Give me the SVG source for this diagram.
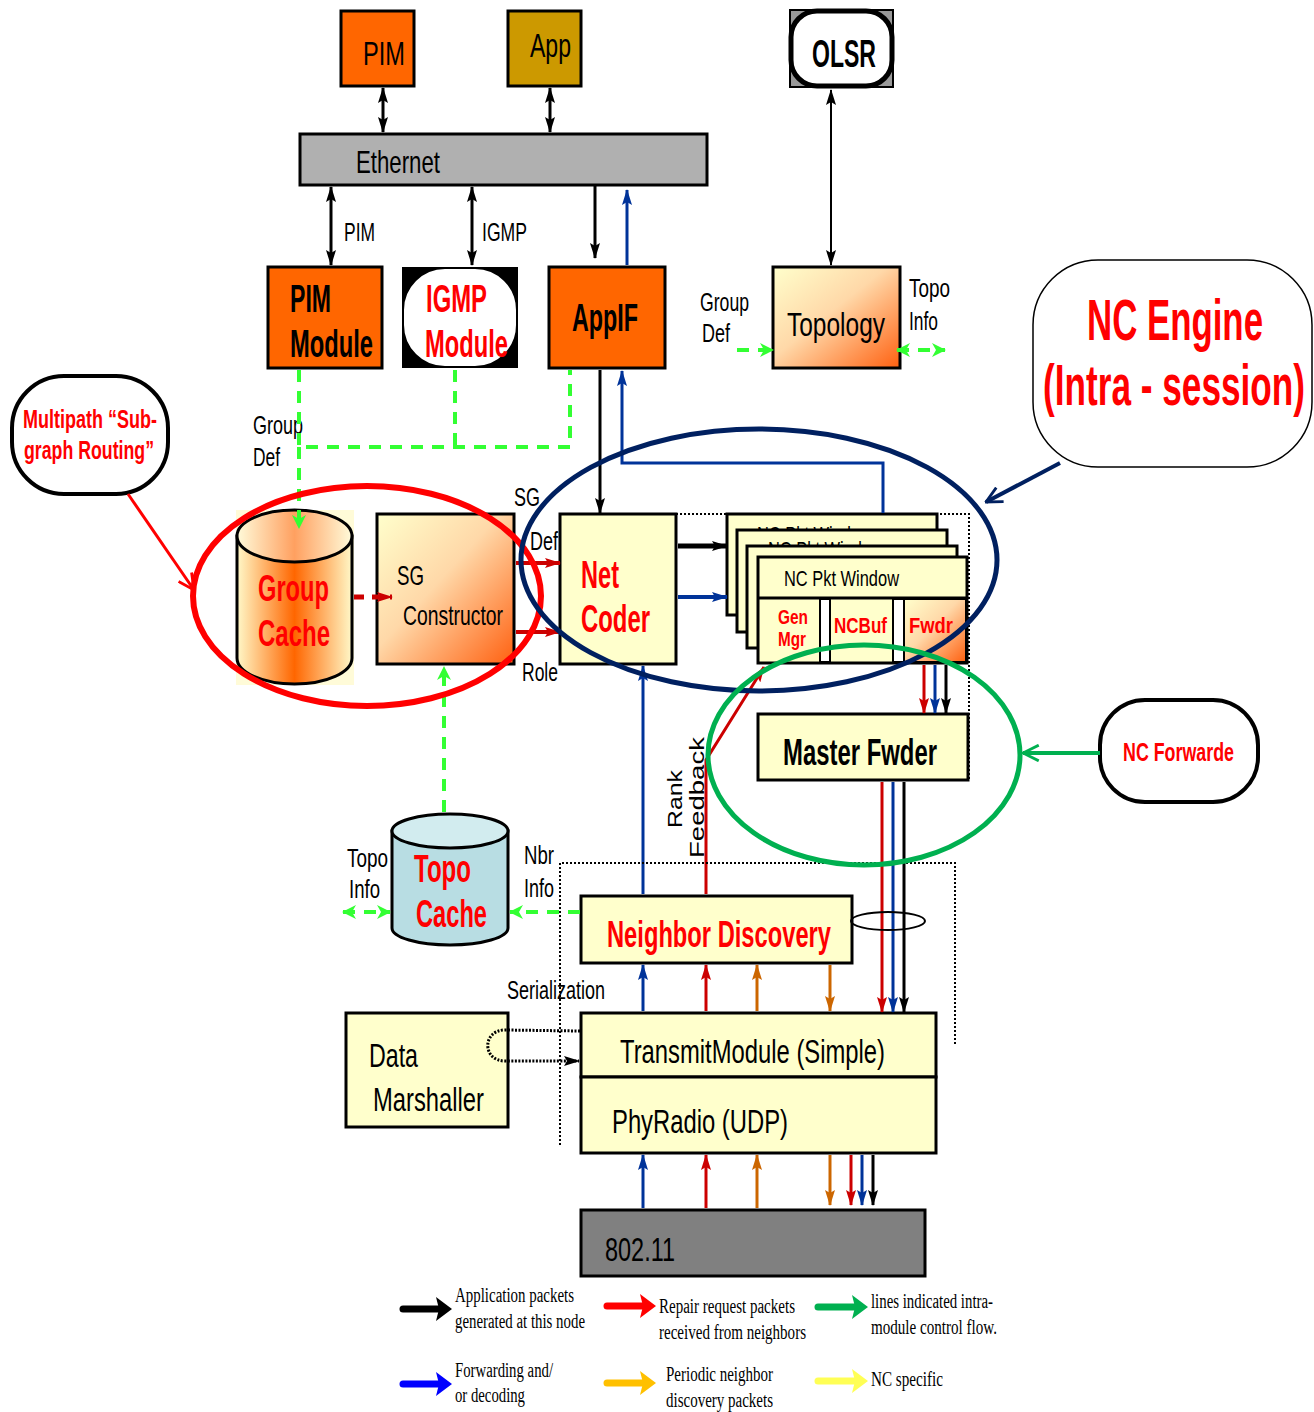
<svg xmlns="http://www.w3.org/2000/svg" width="1314" height="1412" viewBox="0 0 1314 1412">
<style>
text{font-family:"Liberation Sans",Arial,sans-serif;fill:#000}
.b{font-weight:bold}
.r{fill:#FF0000}
.s{font-family:"Liberation Serif","Times New Roman",serif;font-size:20px}
.box{stroke:#000;stroke-width:3}
.y{fill:#FFFFCC}
.or{fill:#FF6600}
.kl{stroke:#000;stroke-width:3;fill:none}
.bl{stroke:#003399;stroke-width:3;fill:none}
.rl{stroke:#CC0000;stroke-width:3;fill:none}
.ol{stroke:#CC6600;stroke-width:3;fill:none}
.gd{stroke:#33FF33;stroke-width:4;fill:none;stroke-dasharray:12 9}
.dot{stroke:#000;stroke-width:2;fill:none;stroke-dasharray:2 2}
</style>
<defs>
<marker id="ak" viewBox="0 0 16 10" refX="15" refY="5" markerWidth="16" markerHeight="10" orient="auto-start-reverse" markerUnits="userSpaceOnUse"><path d="M0,0 L16,5 L0,10 L3,5 z" fill="#000"/></marker>
<marker id="ab" viewBox="0 0 16 10" refX="15" refY="5" markerWidth="16" markerHeight="10" orient="auto-start-reverse" markerUnits="userSpaceOnUse"><path d="M0,0 L16,5 L0,10 L3,5 z" fill="#003399"/></marker>
<marker id="ar" viewBox="0 0 16 10" refX="15" refY="5" markerWidth="16" markerHeight="10" orient="auto-start-reverse" markerUnits="userSpaceOnUse"><path d="M0,0 L16,5 L0,10 L3,5 z" fill="#CC0000"/></marker>
<marker id="ao" viewBox="0 0 16 10" refX="15" refY="5" markerWidth="16" markerHeight="10" orient="auto-start-reverse" markerUnits="userSpaceOnUse"><path d="M0,0 L16,5 L0,10 L3,5 z" fill="#CC6600"/></marker>
<marker id="ag" viewBox="0 0 14 14" refX="13" refY="7" markerWidth="14" markerHeight="14" orient="auto-start-reverse" markerUnits="userSpaceOnUse"><path d="M0,0 L14,7 L0,14 L4,7 z" fill="#33FF33"/></marker>
<marker id="or" viewBox="0 0 16 16" refX="15" refY="8" markerWidth="18" markerHeight="18" orient="auto" markerUnits="userSpaceOnUse"><path d="M1,1 L15,8 L1,15" fill="none" stroke="#FF0000" stroke-width="2.5"/></marker>
<marker id="on" viewBox="0 0 16 16" refX="15" refY="8" markerWidth="18" markerHeight="18" orient="auto" markerUnits="userSpaceOnUse"><path d="M1,1 L15,8 L1,15" fill="none" stroke="#002060" stroke-width="2.5"/></marker>
<marker id="og" viewBox="0 0 16 16" refX="15" refY="8" markerWidth="18" markerHeight="18" orient="auto" markerUnits="userSpaceOnUse"><path d="M1,1 L15,8 L1,15" fill="none" stroke="#00B050" stroke-width="2.5"/></marker>
<linearGradient id="gd" x1="0" y1="0" x2="1" y2="1"><stop offset="0" stop-color="#FFFFCC"/><stop offset="0.45" stop-color="#FFD8A8"/><stop offset="1" stop-color="#FF6010"/></linearGradient>
<linearGradient id="gc" x1="0" y1="0" x2="1" y2="0"><stop offset="0" stop-color="#FFF8C8"/><stop offset="0.5" stop-color="#FF6600"/><stop offset="1" stop-color="#FFF8C8"/></linearGradient>
<linearGradient id="gct" x1="0" y1="0" x2="1" y2="0"><stop offset="0" stop-color="#FFFBDA"/><stop offset="0.5" stop-color="#FFA060"/><stop offset="1" stop-color="#FFFBDA"/></linearGradient>
</defs>

<g id="pim"><rect class="box or" x="341" y="11" width="73" height="75"/><text x="363" y="65" font-size="34" textLength="42" lengthAdjust="spacingAndGlyphs">PIM</text></g>
<g id="app"><rect class="box" fill="#CC9900" x="508" y="11" width="73" height="75"/><text x="530" y="57" font-size="34" textLength="41" lengthAdjust="spacingAndGlyphs">App</text></g>
<g id="olsr"><rect x="790" y="10" width="103" height="77" fill="#999" stroke="#000" stroke-width="2"/><rect x="791" y="11" width="101" height="75" rx="26" fill="#fff" stroke="#000" stroke-width="5"/><text class="b" x="812" y="67" font-size="38" textLength="64" lengthAdjust="spacingAndGlyphs">OLSR</text></g>
<g id="ethernet"><rect class="box" fill="#B0B0B0" x="300" y="134" width="407" height="51"/><text x="356" y="173" font-size="32" textLength="84" lengthAdjust="spacingAndGlyphs">Ethernet</text></g>
<g id="lbl-top"><text x="344" y="241" font-size="26" textLength="31" lengthAdjust="spacingAndGlyphs">PIM</text><text x="482" y="241" font-size="26" textLength="45" lengthAdjust="spacingAndGlyphs">IGMP</text></g>
<g id="pim-module"><rect class="box or" x="268" y="267" width="114" height="101"/><text class="b" x="290" y="312" font-size="38" textLength="41" lengthAdjust="spacingAndGlyphs">PIM</text><text class="b" x="290" y="357" font-size="38" textLength="83" lengthAdjust="spacingAndGlyphs">Module</text></g>
<g id="igmp-module"><rect x="402" y="267" width="116" height="101" fill="#000"/><rect x="403" y="268" width="114" height="99" rx="42" fill="#fff" stroke="#000" stroke-width="2"/><text class="b r" x="426" y="312" font-size="38" textLength="61" lengthAdjust="spacingAndGlyphs">IGMP</text><text class="b r" x="425" y="357" font-size="38" textLength="83" lengthAdjust="spacingAndGlyphs">Module</text></g>
<g id="appif"><rect class="box or" x="549" y="267" width="116" height="101"/><text class="b" x="572" y="331" font-size="38" textLength="66" lengthAdjust="spacingAndGlyphs">AppIF</text></g>
<g id="topology"><rect class="box" fill="url(#gd)" x="773" y="267" width="127" height="101"/><text x="787" y="336" font-size="34" textLength="98" lengthAdjust="spacingAndGlyphs">Topology</text>
<text x="700" y="311" font-size="26" textLength="49" lengthAdjust="spacingAndGlyphs">Group</text><text x="702" y="342" font-size="26" textLength="28" lengthAdjust="spacingAndGlyphs">Def</text>
<text x="909" y="297" font-size="26" textLength="41" lengthAdjust="spacingAndGlyphs">Topo</text><text x="909" y="330" font-size="26" textLength="29" lengthAdjust="spacingAndGlyphs">Info</text></g>
<g id="nc-engine"><rect x="1033" y="260" width="279" height="207" rx="65" fill="#fff" stroke="#000" stroke-width="1.5"/><text class="b r" x="1087" y="340" font-size="58" textLength="176" lengthAdjust="spacingAndGlyphs">NC Engine</text><text class="b r" x="1043" y="405" font-size="58" textLength="262" lengthAdjust="spacingAndGlyphs">(Intra - session)</text></g>
<g id="multipath"><rect x="12" y="376" width="156" height="118" rx="52" fill="#fff" stroke="#000" stroke-width="4"/><text class="b r" x="23" y="428" font-size="25" textLength="134" lengthAdjust="spacingAndGlyphs">Multipath “Sub-</text><text class="b r" x="24" y="459" font-size="25" textLength="130" lengthAdjust="spacingAndGlyphs">graph Routing”</text></g>
<g id="lbl-groupdef"><text x="253" y="434" font-size="26" textLength="50" lengthAdjust="spacingAndGlyphs">Group</text><text x="253" y="466" font-size="26" textLength="27" lengthAdjust="spacingAndGlyphs">Def</text></g>
<g id="group-cache"><rect x="236" y="510" width="118" height="175" fill="#FFFBD8"/><path d="M237,536 V658 A57.5,26 0 0 0 352,658 V536 z" fill="url(#gc)" stroke="#000" stroke-width="3"/><ellipse cx="294.5" cy="536" rx="57.5" ry="26" fill="url(#gct)" stroke="#000" stroke-width="3"/><text class="b r" x="258" y="601" font-size="36" textLength="71" lengthAdjust="spacingAndGlyphs">Group</text><text class="b r" x="258" y="646" font-size="36" textLength="72" lengthAdjust="spacingAndGlyphs">Cache</text></g>
<g id="sg-constructor"><rect class="box" fill="url(#gd)" x="377" y="514" width="137" height="150"/><text x="397" y="585" font-size="28" textLength="27" lengthAdjust="spacingAndGlyphs">SG</text><text x="403" y="625" font-size="28" textLength="100" lengthAdjust="spacingAndGlyphs">Constructor</text></g>
<g id="lbl-sg"><text x="514" y="506" font-size="26" textLength="26" lengthAdjust="spacingAndGlyphs">SG</text><text x="530" y="550" font-size="26" textLength="28" lengthAdjust="spacingAndGlyphs">Def</text><text x="522" y="681" font-size="26" textLength="36" lengthAdjust="spacingAndGlyphs">Role</text></g>
<g id="net-coder"><rect class="box y" x="560" y="514" width="116" height="150"/><text class="b r" x="581" y="588" font-size="38" textLength="38" lengthAdjust="spacingAndGlyphs">Net</text><text class="b r" x="581" y="632" font-size="38" textLength="69" lengthAdjust="spacingAndGlyphs">Coder</text></g>
<g id="nc-pkt-window">
<rect class="box y" x="727" y="514" width="210" height="101"/><text x="757" y="542" font-size="22" textLength="115" lengthAdjust="spacingAndGlyphs">NC Pkt Window</text>
<rect class="box y" x="737" y="530" width="210" height="102"/><text x="768" y="557" font-size="22" textLength="115" lengthAdjust="spacingAndGlyphs">NC Pkt Window</text>
<rect class="box y" x="747" y="546" width="210" height="102"/><text x="778" y="572" font-size="22" textLength="115" lengthAdjust="spacingAndGlyphs">NC Pkt Window</text>
<rect class="box y" x="758" y="557" width="209" height="106"/><line x1="758" y1="598" x2="967" y2="598" stroke="#000" stroke-width="3"/>
<rect x="820" y="599" width="10" height="63" fill="#fff" stroke="#000" stroke-width="2"/><rect x="893" y="599" width="11" height="63" fill="#fff" stroke="#000" stroke-width="2"/>
<rect x="904" y="599" width="62" height="63" fill="url(#gd)" stroke="#000" stroke-width="2"/>
<text x="784" y="586" font-size="22" textLength="115" lengthAdjust="spacingAndGlyphs">NC Pkt Window</text>
<text class="b r" x="778" y="624" font-size="21" textLength="30" lengthAdjust="spacingAndGlyphs">Gen</text><text class="b r" x="778" y="646" font-size="21" textLength="28" lengthAdjust="spacingAndGlyphs">Mgr</text>
<text class="b r" x="834" y="633" font-size="22" textLength="53" lengthAdjust="spacingAndGlyphs">NCBuf</text>
<text class="b r" x="909" y="633" font-size="22" textLength="44" lengthAdjust="spacingAndGlyphs">Fwdr</text></g>
<g id="master-fwder"><rect class="box y" x="758" y="714" width="210" height="66"/><text class="b" x="783" y="765" font-size="36" textLength="154" lengthAdjust="spacingAndGlyphs">Master Fwder</text></g>
<g id="nc-forwarde"><rect x="1100" y="700" width="158" height="102" rx="45" fill="#fff" stroke="#000" stroke-width="4"/><text class="b r" x="1123" y="761" font-size="26" textLength="111" lengthAdjust="spacingAndGlyphs">NC Forwarde</text></g>
<g id="lbl-rank"><text transform="translate(682,828) rotate(-90)" font-size="21" textLength="58" lengthAdjust="spacingAndGlyphs">Rank</text><text transform="translate(704,858) rotate(-90)" font-size="21" textLength="121" lengthAdjust="spacingAndGlyphs">Feedback</text></g>
<g id="topo-cache"><path d="M392,831 V928 A58,17 0 0 0 508,928 V831 z" fill="#B8DDE3" stroke="#000" stroke-width="3"/><ellipse cx="450" cy="831" rx="58" ry="17" fill="#D2ECEF" stroke="#000" stroke-width="3"/><text class="b r" x="414" y="882" font-size="38" textLength="57" lengthAdjust="spacingAndGlyphs">Topo</text><text class="b r" x="416" y="927" font-size="38" textLength="71" lengthAdjust="spacingAndGlyphs">Cache</text>
<text x="347" y="867" font-size="26" textLength="41" lengthAdjust="spacingAndGlyphs">Topo</text><text x="349" y="898" font-size="26" textLength="31" lengthAdjust="spacingAndGlyphs">Info</text>
<text x="524" y="864" font-size="26" textLength="30" lengthAdjust="spacingAndGlyphs">Nbr</text><text x="524" y="897" font-size="26" textLength="30" lengthAdjust="spacingAndGlyphs">Info</text></g>
<g id="neighbor-discovery"><rect class="box y" x="581" y="896" width="271" height="67"/><text class="b r" x="607" y="947" font-size="36" textLength="224" lengthAdjust="spacingAndGlyphs">Neighbor Discovery</text></g>
<g id="lbl-serial"><text x="507" y="999" font-size="26" textLength="98" lengthAdjust="spacingAndGlyphs">Serialization</text></g>
<g id="data-marshaller"><rect class="box y" x="346" y="1013" width="162" height="114"/><text x="369" y="1067" font-size="34" textLength="49" lengthAdjust="spacingAndGlyphs">Data</text><text x="373" y="1111" font-size="34" textLength="111" lengthAdjust="spacingAndGlyphs">Marshaller</text></g>
<g id="transmit-module"><rect class="box y" x="581" y="1013" width="355" height="64"/><text x="620" y="1063" font-size="34" textLength="265" lengthAdjust="spacingAndGlyphs">TransmitModule (Simple)</text></g>
<g id="phyradio"><rect class="box y" x="581" y="1077" width="355" height="76"/><text x="612" y="1133" font-size="34" textLength="176" lengthAdjust="spacingAndGlyphs">PhyRadio (UDP)</text></g>
<g id="wifi"><rect class="box" fill="#808080" x="581" y="1210" width="344" height="66"/><text x="605" y="1261" font-size="34" textLength="70" lengthAdjust="spacingAndGlyphs">802.11</text></g>

<g id="connectors">
<line class="kl" x1="383" y1="88" x2="383" y2="132" marker-start="url(#ak)" marker-end="url(#ak)"/>
<line class="kl" x1="550" y1="88" x2="550" y2="132" marker-start="url(#ak)" marker-end="url(#ak)"/>
<line class="kl" x1="331" y1="187" x2="331" y2="265" marker-start="url(#ak)" marker-end="url(#ak)"/>
<line class="kl" x1="472" y1="187" x2="472" y2="265" marker-start="url(#ak)" marker-end="url(#ak)"/>
<line class="kl" x1="595" y1="186" x2="595" y2="258" marker-end="url(#ak)"/>
<line class="bl" x1="627" y1="265" x2="627" y2="190" marker-end="url(#ab)"/>
<line stroke="#000" stroke-width="2" x1="831" y1="90" x2="831" y2="265" marker-start="url(#ak)" marker-end="url(#ak)"/>
<line class="gd" x1="737" y1="350" x2="773" y2="350" marker-end="url(#ag)"/>
<line class="gd" x1="897" y1="350" x2="945" y2="350" marker-start="url(#ag)" marker-end="url(#ag)"/>
<path class="gd" d="M299,370 V447 H570 V370 M455,370 V447"/>
<line class="gd" x1="299" y1="447" x2="299" y2="528" marker-end="url(#ag)"/>
<line x1="354" y1="597" x2="392" y2="597" stroke="#CC0000" stroke-width="5" stroke-dasharray="10 8" marker-end="url(#ar)"/>
<line x1="516" y1="563" x2="560" y2="563" stroke="#CC0000" stroke-width="4" marker-end="url(#ar)"/>
<line x1="516" y1="632" x2="560" y2="632" stroke="#CC0000" stroke-width="4" marker-end="url(#ar)"/>
<line class="kl" x1="600" y1="370" x2="600" y2="513" marker-end="url(#ak)"/>
<path class="bl" d="M883,513 V463 H622 V371" marker-end="url(#ab)"/>
<line x1="678" y1="546" x2="727" y2="546" stroke="#000" stroke-width="5" marker-end="url(#ak)"/>
<line x1="678" y1="597" x2="727" y2="597" stroke="#003399" stroke-width="4" marker-end="url(#ab)"/>
<path class="dot" d="M676,514 H969 V781"/>
<line class="rl" x1="924" y1="665" x2="924" y2="713" marker-end="url(#ar)"/>
<line class="bl" x1="935" y1="665" x2="935" y2="713" marker-end="url(#ab)"/>
<line class="kl" x1="946" y1="665" x2="946" y2="713" marker-end="url(#ak)"/>
<line class="rl" x1="882" y1="782" x2="882" y2="1012" marker-end="url(#ar)"/>
<line class="bl" x1="893" y1="782" x2="893" y2="1012" marker-end="url(#ab)"/>
<line class="kl" x1="904" y1="782" x2="904" y2="1012" marker-end="url(#ak)"/>
<ellipse cx="888" cy="921" rx="37" ry="9" fill="none" stroke="#000" stroke-width="2"/>
<line class="bl" x1="643" y1="894" x2="643" y2="666" marker-end="url(#ab)"/>
<path class="rl" d="M706,894 V760 L764,667" marker-end="url(#ar)"/>
<line class="gd" x1="444" y1="812" x2="444" y2="667" marker-end="url(#ag)"/>
<line class="gd" x1="343" y1="912" x2="390" y2="912" marker-start="url(#ag)" marker-end="url(#ag)"/>
<line class="gd" x1="580" y1="912" x2="510" y2="912" marker-end="url(#ag)"/>
<path class="dot" d="M560,1145 V863 H955 V1045"/>
<line class="bl" x1="643" y1="1011" x2="643" y2="965" marker-end="url(#ab)"/>
<line class="rl" x1="706" y1="1011" x2="706" y2="965" marker-end="url(#ar)"/>
<line class="ol" x1="757" y1="1011" x2="757" y2="965" marker-end="url(#ao)"/>
<line class="ol" x1="830" y1="965" x2="830" y2="1011" marker-end="url(#ao)"/>
<path d="M580,1031 L505,1030 C482,1030 482,1061 505,1061 L579,1061" fill="none" stroke="#000" stroke-width="3" stroke-dasharray="2 1.5" marker-end="url(#ak)"/>
<line class="bl" x1="643" y1="1208" x2="643" y2="1155" marker-end="url(#ab)"/>
<line class="rl" x1="706" y1="1208" x2="706" y2="1155" marker-end="url(#ar)"/>
<line class="ol" x1="757" y1="1208" x2="757" y2="1155" marker-end="url(#ao)"/>
<line class="ol" x1="830" y1="1155" x2="830" y2="1205" marker-end="url(#ao)"/>
<line class="rl" x1="851" y1="1155" x2="851" y2="1205" marker-end="url(#ar)"/>
<line class="bl" x1="862" y1="1155" x2="862" y2="1205" marker-end="url(#ab)"/>
<line class="kl" x1="873" y1="1155" x2="873" y2="1205" marker-end="url(#ak)"/>
<line x1="128" y1="494" x2="194" y2="590" stroke="#FF0000" stroke-width="3" marker-end="url(#or)"/>
<line x1="1060" y1="463" x2="986" y2="502" stroke="#002060" stroke-width="4" marker-end="url(#on)"/>
<line x1="1100" y1="753" x2="1023" y2="753" stroke="#00B050" stroke-width="4" marker-end="url(#og)"/>
</g>

<g id="ellipses" fill="none">
<ellipse cx="367" cy="596" rx="174" ry="110" stroke="#FF0000" stroke-width="6"/>
<ellipse cx="759" cy="560" rx="238" ry="131" stroke="#002060" stroke-width="5"/>
<ellipse cx="864" cy="755" rx="156" ry="110" stroke="#00B050" stroke-width="5"/>
</g>

<g id="legend">
<g stroke-linecap="round" stroke-width="7">
<line x1="403" y1="1309" x2="440" y2="1309" stroke="#000"/><polygon points="436,1297 452,1309 436,1321 439,1309" fill="#000"/>
<line x1="607" y1="1306" x2="643" y2="1306" stroke="#FF0000"/><polygon points="640,1294 656,1306 640,1318 643,1306" fill="#FF0000"/>
<line x1="818" y1="1307" x2="855" y2="1307" stroke="#00B050"/><polygon points="852,1295 868,1307 852,1319 855,1307" fill="#00B050"/>
<line x1="403" y1="1384" x2="440" y2="1384" stroke="#0000FF"/><polygon points="436,1372 452,1384 436,1396 439,1384" fill="#0000FF"/>
<line x1="607" y1="1383" x2="643" y2="1383" stroke="#FFC000"/><polygon points="640,1371 656,1383 640,1395 643,1383" fill="#FFC000"/>
<line x1="818" y1="1381" x2="855" y2="1381" stroke="#FFFF55"/><polygon points="852,1369 868,1381 852,1393 855,1381" fill="#FFFF55"/>
</g>
<text class="s" x="455" y="1302" textLength="119" lengthAdjust="spacingAndGlyphs">Application packets</text>
<text class="s" x="455" y="1328" textLength="130" lengthAdjust="spacingAndGlyphs">generated at this node</text>
<text class="s" x="659" y="1313" textLength="136" lengthAdjust="spacingAndGlyphs">Repair request packets</text>
<text class="s" x="659" y="1339" textLength="147" lengthAdjust="spacingAndGlyphs">received from neighbors</text>
<text class="s" x="871" y="1308" textLength="122" lengthAdjust="spacingAndGlyphs">lines indicated intra-</text>
<text class="s" x="871" y="1334" textLength="126" lengthAdjust="spacingAndGlyphs">module control flow.</text>
<text class="s" x="455" y="1377" textLength="98" lengthAdjust="spacingAndGlyphs">Forwarding and/</text>
<text class="s" x="455" y="1402" textLength="70" lengthAdjust="spacingAndGlyphs">or decoding</text>
<text class="s" x="666" y="1381" textLength="107" lengthAdjust="spacingAndGlyphs">Periodic neighbor</text>
<text class="s" x="666" y="1407" textLength="107" lengthAdjust="spacingAndGlyphs">discovery packets</text>
<text class="s" x="871" y="1386" textLength="72" lengthAdjust="spacingAndGlyphs">NC specific</text>
</g>
</svg>
